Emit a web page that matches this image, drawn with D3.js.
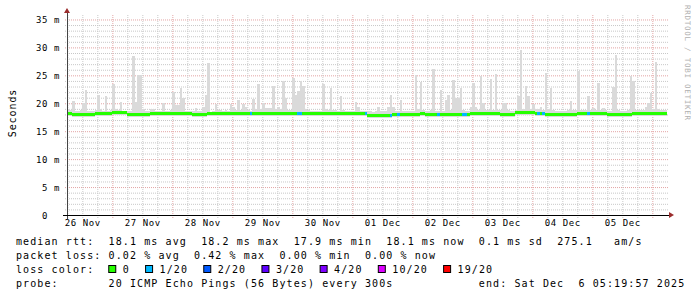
<!DOCTYPE html>
<meta charset="utf-8">
<style>
  body { margin: 0; background: #fff; }
  svg text { font-family: "DejaVu Sans Mono", monospace; }
</style>
<body>
<div id="chart"></div>
<script src="https://d3js.org/d3.v7.min.js"></script>
<script>
// one value per hour, 240 hours (10 days) up to Sat Dec 6 2025
var startTime = Date.UTC(2025, 10, 26, 5, 52);
var stepMs = 3600 * 1000;

// top of the smoke (ms)
var smokeTop = [
  18.9,18.8,20.4,18.7,18.7,18.8,20.0,22.4,18.7,18.7,18.7,18.8,21.5,18.9,18.7,21.3,18.7,18.8,23.5,18.9,
  18.8,20.2,18.7,18.7,18.6,18.7,28.5,20.2,25.1,25.1,18.9,18.7,18.7,18.9,18.9,18.7,18.7,18.7,20.0,18.7,
  18.7,18.8,22.1,19.7,19.7,22.8,20.9,18.7,18.6,18.7,18.6,19.1,18.7,18.7,19.4,21.5,27.2,18.5,18.7,19.9,
  18.8,18.8,18.7,18.8,18.7,19.9,19.3,18.8,20.6,18.8,19.9,19.4,18.8,18.7,20.8,18.9,23.4,18.9,20.0,19.1,
  19.1,19.1,23.1,18.9,19.4,19.0,24.0,20.9,18.8,18.8,24.6,21.5,22.2,24.0,23.1,18.9,18.8,18.7,18.7,18.7,
  18.7,18.7,23.5,18.9,18.8,22.8,18.8,18.8,18.7,21.3,18.8,18.7,18.7,18.7,18.7,20.2,19.4,18.7,18.7,18.6,
  18.7,18.6,18.4,18.6,19.4,18.7,18.6,18.6,19.3,21.5,19.3,18.7,18.6,20.6,18.7,18.7,18.7,18.7,18.7,25.0,
  19.0,23.8,18.8,18.7,18.6,18.8,26.1,18.6,18.6,22.3,18.6,20.6,21.5,18.8,24.2,20.9,20.9,22.7,18.8,18.7,
  18.6,19.4,23.6,19.4,18.8,24.9,20.0,18.8,18.8,24.3,18.8,25.2,18.8,18.8,20.0,20.0,18.8,18.7,18.7,18.8,
  21.3,29.5,18.9,23.1,21.3,18.9,19.9,19.0,18.9,19.3,18.8,25.4,18.9,22.8,18.8,18.6,18.6,18.6,18.7,18.7,
  18.8,20.4,18.8,18.8,25.8,18.8,18.8,18.8,21.3,18.8,19.1,18.8,23.7,18.8,19.2,18.8,18.7,18.7,23.0,28.6,
  18.8,18.6,18.6,18.7,18.8,24.8,23.9,18.8,18.8,18.8,18.8,19.3,20.0,21.8,19.0,27.3,18.9,18.8,18.8,18.8
];

// median rtt (ms)
var median = [
  18.2,18.2,17.95,17.95,17.95,17.95,17.95,17.95,17.95,17.95,17.95,18.1,18.1,18.1,18.1,18.1,18.1,18.1,18.3,18.3,
  18.3,18.3,18.3,18.3,17.95,17.95,17.95,17.95,17.95,17.95,17.95,17.95,17.95,18.15,18.15,18.15,18.15,18.15,18.15,18.15,
  18.15,18.15,18.15,18.15,18.15,18.15,18.15,18.15,18.15,18.15,17.95,17.95,17.95,17.95,17.95,17.95,18.1,18.1,18.1,18.1,
  18.1,18.1,18.1,18.1,18.1,18.2,18.2,18.2,18.2,18.2,18.2,18.2,18.2,18.2,18.2,18.2,18.2,18.2,18.2,18.2,
  18.2,18.2,18.2,18.2,18.2,18.2,18.2,18.2,18.2,18.2,18.15,18.15,18.15,18.15,18.15,18.1,18.1,18.1,18.1,18.1,
  18.1,18.1,18.1,18.1,18.1,18.1,18.1,18.1,18.1,18.1,18.1,18.1,18.1,18.1,18.1,18.1,18.1,18.1,18.1,18.1,
  17.9,17.9,17.9,17.9,17.9,17.9,17.9,17.9,17.9,17.9,18.05,18.05,18.05,18.05,18.05,18.05,18.05,18.05,18.05,18.05,
  18.05,18.1,18.1,17.95,17.95,17.95,17.95,17.95,17.95,17.95,17.95,17.95,17.95,17.95,18.05,18.05,18.05,18.05,18.05,18.05,
  18.05,18.1,18.1,18.1,18.1,18.1,18.1,18.1,18.1,18.1,18.1,18.1,18.1,18.05,18.05,18.05,18.05,18.05,18.05,18.35,
  18.35,18.35,18.35,18.35,18.35,18.35,18.35,18.1,18.1,18.1,18.1,17.95,17.95,17.95,17.95,17.95,17.95,17.95,17.95,17.95,
  17.95,17.95,17.95,17.95,18.1,18.1,18.1,18.1,18.1,18.1,18.1,18.1,18.1,18.1,18.1,18.1,17.95,17.95,17.95,17.95,
  17.95,17.95,17.95,17.95,17.95,17.95,18.1,18.1,18.1,18.1,18.1,18.1,18.1,18.1,18.1,18.1,18.2,18.2,18.2,18.2
];

// lost pings out of 20
var lossCount = [
  0,0,0,0,0,0,0,0,0,0,0,0,0,0,0,0,0,0,0,0,
  0,0,0,0,0,0,0,0,0,0,0,0,0,0,0,0,0,0,0,0,
  0,0,0,0,0,0,0,0,0,0,0,0,0,0,0,0,0,0,0,0,
  0,0,0,0,0,0,0,0,0,0,0,0,0,1,0,0,0,0,0,0,
  0,0,0,0,0,0,0,0,0,0,0,0,1,1,0,0,0,0,0,0,
  0,0,0,0,0,0,0,0,0,0,0,0,0,0,0,0,0,0,0,1,
  0,0,0,0,0,0,0,0,0,1,0,0,1,0,0,0,0,0,0,0,
  0,0,0,0,0,0,0,0,1,0,0,0,0,0,0,0,0,0,1,1,
  0,0,0,0,0,0,0,0,0,0,0,0,0,0,0,0,0,0,0,0,
  0,0,0,0,0,0,0,0,1,0,1,0,0,0,0,0,0,0,0,0,
  0,0,0,0,0,0,0,0,1,0,0,0,0,0,0,0,0,0,0,0,
  0,0,0,0,0,0,0,0,0,0,0,0,0,0,0,0,0,0,0,0
];

var lossLevels = [1, 2, 3, 4, 10, 19];
var lossLabels = ["0", "1/20", "2/20", "3/20", "4/20", "10/20", "19/20"];
var lossColors = ["#26ff00", "#00b8ff", "#0059ff", "#5e00ff", "#7e00ff", "#dd00ff", "#ff0000"];

var yMajor = [0, 5, 10, 15, 20, 25, 30, 35];

var legendLines = [
  "median rtt:  18.1 ms avg  18.2 ms max  17.9 ms min  18.1 ms now  0.1 ms sd  275.1   am/s",
  "packet loss: 0.02 % avg  0.42 % max  0.00 % min  0.00 % now",
  "loss color:",
  "probe:       20 ICMP Echo Pings (56 Bytes) every 300s"
];
var endText = "end: Sat Dec  6 05:19:57 2025";

// ---- layout
var W = 697, H = 297;
var pLeft = 67, pRight = 667, pTop = 15, pBottom = 215;
var colW = 7.12;

// keep runs of spaces in svg text
function keepSpaces(s) { return s.replace(/ /g, "\u00a0"); }

var svg = d3.select("#chart").append("svg")
    .attr("width", W).attr("height", H);
svg.append("rect").attr("width", W).attr("height", H).attr("fill", "#fff");

var times = d3.range(median.length + 1).map(function(i) { return new Date(startTime + i * stepMs); });

var x = d3.scaleUtc()
    .domain([times[0], times[times.length - 1]])
    .range([pLeft, pRight]);
var y = d3.scaleLinear()
    .domain([0, 35.8])
    .range([pBottom, pTop]);
var lossColor = d3.scaleThreshold().domain(lossLevels).range(lossColors);

// minor / major horizontal grid
var yMinor = d3.range(1, 36).filter(function(v) { return v % 5 != 0; });
svg.append("g")
    .attr("transform", "translate(" + (pLeft - 2) + ",0)")
    .call(d3.axisLeft(y).tickValues(yMinor).tickSize(-(pRight - pLeft + 4)).tickFormat(""))
    .call(function(g) { g.select(".domain").remove(); })
    .selectAll("line")
    .attr("stroke", "#c8c8c8").attr("stroke-dasharray", "1,1");
svg.append("g")
    .attr("transform", "translate(" + (pLeft - 2) + ",0)")
    .call(d3.axisLeft(y).tickValues(yMajor.slice(1)).tickSize(-(pRight - pLeft + 4)).tickFormat(""))
    .call(function(g) { g.select(".domain").remove(); })
    .selectAll("line")
    .attr("stroke", "#e3a4a4").attr("stroke-dasharray", "1,1");

// vertical grid: 6 hours minor, days major
var sixHours = d3.utcHour.every(6).range(times[0], times[times.length - 1])
    .filter(function(d) { return d.getUTCHours() != 0; });
var days = d3.utcDay.range(times[0], times[times.length - 1]);
svg.append("g")
    .attr("transform", "translate(0," + (pBottom + 3) + ")")
    .call(d3.axisBottom(x).tickValues(sixHours).tickSize(-(pBottom + 3 - pTop)).tickFormat(""))
    .call(function(g) { g.select(".domain").remove(); })
    .selectAll("line")
    .attr("stroke", "#c8c8c8").attr("stroke-dasharray", "1,1");
svg.append("g")
    .attr("transform", "translate(0," + (pBottom + 3) + ")")
    .call(d3.axisBottom(x).tickValues(days).tickSize(-(pBottom + 3 - pTop)).tickFormat(""))
    .call(function(g) { g.select(".domain").remove(); })
    .selectAll("line")
    .attr("stroke", "#e3a4a4").attr("stroke-dasharray", "1,1");

// smoke
svg.append("g").attr("shape-rendering", "crispEdges")
  .selectAll("rect").data(smokeTop).enter().append("rect")
    .attr("x", function(d, i) { return x(times[i]); })
    .attr("width", function(d, i) { return x(times[i + 1]) - x(times[i]); })
    .attr("y", function(d) { return y(d); })
    .attr("height", function(d, i) { return y(median[i] - 0.45) - y(d); })
    .attr("fill", "#dadada");

// median band coloured by loss
svg.append("g").attr("shape-rendering", "crispEdges")
  .selectAll("rect").data(median).enter().append("rect")
    .attr("x", function(d, i) { return x(times[i]); })
    .attr("width", function(d, i) { return x(times[i + 1]) - x(times[i]); })
    .attr("y", function(d) { return y(d) - 1.5; })
    .attr("height", 3)
    .attr("fill", function(d, i) { return lossColor(lossCount[i]); });

// y labels
var yAxis = svg.append("g")
    .attr("transform", "translate(" + pLeft + ",0)")
    .call(d3.axisLeft(y).tickValues(yMajor).tickSize(0).tickPadding(7)
      .tickFormat(function(d) { return d == 0 ? "0\u00a0\u00a0" : keepSpaces(d + " m"); }));
yAxis.select(".domain").remove();
yAxis.selectAll("text")
    .attr("font-family", "DejaVu Sans Mono")
    .attr("font-size", "9px").attr("letter-spacing", "0.6px")
    .attr("fill", "#000").attr("dy", "0.36em");

// x labels at noon
var noons = days.map(function(d) { return d3.utcHour.offset(d, -12); });
var xAxis = svg.append("g")
    .attr("transform", "translate(0," + pBottom + ")")
    .call(d3.axisBottom(x).tickValues(noons).tickSize(0).tickPadding(4)
      .tickFormat(function(d) { return keepSpaces(d3.utcFormat("%d %b")(d)); }));
xAxis.select(".domain").remove();
xAxis.selectAll("text")
    .attr("font-family", "DejaVu Sans Mono")
    .attr("font-size", "9px").attr("letter-spacing", "0.6px")
    .attr("fill", "#000").attr("dy", "0.75em");

// axis lines with arrows
svg.append("line").attr("x1", pLeft).attr("x2", pLeft).attr("y1", pBottom + 4).attr("y2", pTop - 4)
    .attr("stroke", "#444").attr("shape-rendering", "crispEdges");
svg.append("line").attr("x1", pLeft - 4).attr("x2", pRight + 3).attr("y1", pBottom).attr("y2", pBottom)
    .attr("stroke", "#000").attr("shape-rendering", "crispEdges");
svg.append("path")
    .attr("d", "M" + (pLeft - 3) + "," + (pTop - 2) + "L" + pLeft + "," + (pTop - 7) + "L" + (pLeft + 3) + "," + (pTop - 2) + "Z")
    .attr("fill", "#9b2d2d");
svg.append("path")
    .attr("d", "M" + (pRight + 2) + "," + (pBottom - 3) + "L" + (pRight + 7) + "," + pBottom + "L" + (pRight + 2) + "," + (pBottom + 3) + "Z")
    .attr("fill", "#9b2d2d");

// y title
svg.append("text")
    .attr("transform", "translate(15.5,113) rotate(-90)")
    .attr("text-anchor", "middle")
    .attr("font-size", "10px").attr("letter-spacing", "0.9px")
    .text("Seconds");

// watermark
svg.append("text")
    .attr("transform", "translate(684.5,5) rotate(90)")
    .attr("font-size", "7.5px").attr("letter-spacing", "0.75px")
    .attr("fill", "#b0b0b0")
    .text(keepSpaces("RRDTOOL / TOBI OETIKER"));

// legend
var legend = svg.append("g")
    .attr("font-size", "10px").attr("letter-spacing", (colW - 6.02) + "px")
    .attr("fill", "#000");
var rowY = [245, 259, 273, 287];
legend.selectAll("text.row").data(legendLines).enter().append("text")
    .attr("class", "row")
    .attr("x", 16)
    .attr("y", function(d, i) { return rowY[i]; })
    .text(function(d) { return keepSpaces(d); });
legend.append("text").attr("x", 16 + 65 * colW).attr("y", rowY[3]).text(keepSpaces(endText));

var lx = 16 + 13 * colW - 0.3;
lossLabels.forEach(function(lab, i) {
  legend.append("rect")
      .attr("x", lx + 0.5).attr("y", rowY[2] - 7.5)
      .attr("width", 7).attr("height", 7)
      .attr("fill", lossColors[i]).attr("stroke", "#000");
  legend.append("text").attr("x", lx + 14.5).attr("y", rowY[2]).text(lab);
  lx += 14.5 + lab.length * colW + 15.2;
});
</script>
</body>
